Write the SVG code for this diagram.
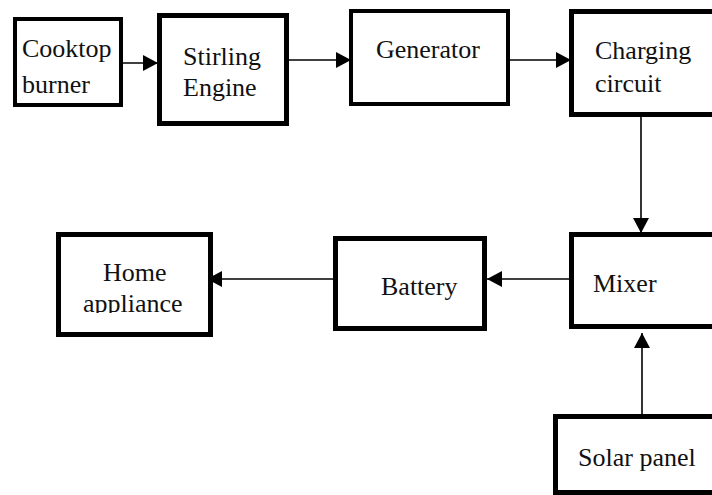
<svg xmlns="http://www.w3.org/2000/svg" width="712" height="495" viewBox="0 0 712 495">
  <style>
    .box { fill: #ffffff; stroke: #000000; stroke-width: 5; }
    .thin { stroke-width: 4; }
    .lbl { font-family: "Liberation Serif", "Times New Roman", serif; font-size: 26px; fill: #111111; }
    .conn { stroke: #000000; stroke-width: 1.6; fill: none; marker-end: url(#ah); }
  </style>
  <defs>
    <marker id="ah" markerUnits="userSpaceOnUse" markerWidth="15" markerHeight="16" viewBox="0 0 15 16" refX="15" refY="8" orient="auto">
      <path d="M0,0 L15,8 L0,16 Z" fill="#000000"/>
    </marker>
    <clipPath id="homeclip">
      <rect x="60" y="236" width="150" height="77"/>
    </clipPath>
  </defs>
  <rect width="712" height="495" fill="#ffffff"/>

  <g id="connectors">
    <line class="conn" x1="123" y1="63" x2="158" y2="63"/>
    <line class="conn" x1="289" y1="60" x2="351" y2="60"/>
    <line class="conn" x1="503" y1="60" x2="571" y2="60"/>
    <line class="conn" x1="641" y1="117" x2="641" y2="233"/>
    <line class="conn" x1="569" y1="279" x2="487" y2="279"/>
    <line class="conn" x1="333" y1="279" x2="207" y2="279"/>
    <line class="conn" x1="642" y1="414" x2="642" y2="333"/>
  </g>

  <g id="cooktop">
    <rect class="box thin" x="15" y="19" width="106" height="86"/>
    <text class="lbl" x="22" y="57">Cooktop</text>
    <text class="lbl" x="22" y="93">burner</text>
  </g>
  <g id="stirling">
    <rect class="box" x="159.5" y="15.5" width="127" height="108"/>
    <text class="lbl" x="183" y="65">Stirling</text>
    <text class="lbl" x="183" y="96">Engine</text>
  </g>
  <g id="generator">
    <rect class="box thin" x="351" y="11" width="157" height="93"/>
    <text class="lbl" x="376" y="58">Generator</text>
  </g>
  <g id="charging">
    <rect class="box" x="571.5" y="11.5" width="160" height="103"/>
    <text class="lbl" x="595" y="59">Charging</text>
    <text class="lbl" x="595" y="92">circuit</text>
  </g>
  <g id="mixer">
    <rect class="box" x="571.5" y="234.5" width="160" height="92"/>
    <text class="lbl" x="593" y="292">Mixer</text>
  </g>
  <g id="battery">
    <rect class="box" x="335.5" y="238.5" width="149" height="90"/>
    <text class="lbl" x="381" y="295">Battery</text>
  </g>
  <g id="home">
    <rect class="box" x="58.5" y="234.5" width="152" height="100"/>
    <g clip-path="url(#homeclip)">
      <text class="lbl" x="103" y="281">Home</text>
      <text class="lbl" x="83" y="312">appliance</text>
    </g>
  </g>
  <g id="solar">
    <rect class="box" x="555.5" y="416.5" width="170" height="76"/>
    <text class="lbl" x="578" y="466">Solar panel</text>
  </g>
</svg>
